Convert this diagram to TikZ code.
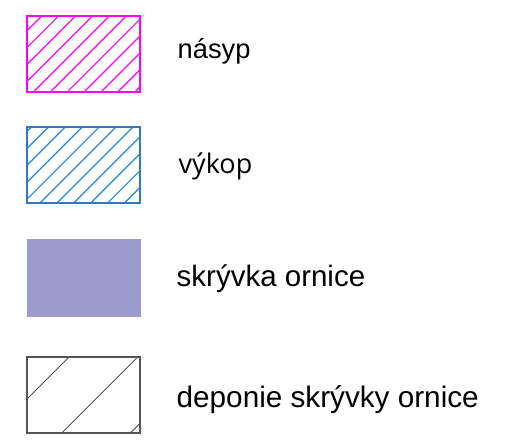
\documentclass[tikz,border=0pt]{standalone}
\usepackage{fontspec}
\setmainfont{Liberation Sans}
\newfontfamily\humanist{Open Sans}
\definecolor{nasypcol}{RGB}{255,0,255}
\definecolor{vykopedge}{RGB}{48,120,200}
\definecolor{vykophatch}{RGB}{30,136,229}
\definecolor{ornicecol}{RGB}{155,155,206}
\definecolor{deponiecol}{RGB}{85,85,85}
\tikzset{
  legendtext/.style={anchor=base west, inner sep=0pt, text=black},
}
\begin{document}
\begin{tikzpicture}[x=1pt,y=-1pt]
  \useasboundingbox (0,0) rectangle (509,440);
  % násyp: magenta hatching
  \begin{scope}
    \clip (27,16) rectangle (140,92);
    \foreach \c in {23.9,40.8,...,260} \draw[nasypcol, line width=1.2pt] (\c-100,100) -- (\c,0);
  \end{scope}
  \draw[nasypcol, line width=1.6pt] (27,16) rectangle (140,92);
  % výkop: blue hatching
  \begin{scope}
    \clip (27,127) rectangle (140,203);
    \foreach \c in {141.6,158.5,...,380} \draw[vykophatch, line width=1.2pt] (\c-210,210) -- (\c-120,120);
  \end{scope}
  \draw[vykopedge, line width=1.3pt] (27,127) rectangle (140,203);
  % skrývka ornice: solid fill
  \fill[ornicecol] (27,239) rectangle (141,317);
  % deponie: sparse grey hatching
  \begin{scope}
    \clip (27,357) rectangle (140,433);
    \foreach \c in {357.3,426,...,640} \draw[deponiecol, line width=1pt] (\c-440,440) -- (\c-350,350);
  \end{scope}
  \draw[deponiecol, line width=1.2pt] (27,357) rectangle (140,433);
  % labels
  \node[legendtext, font=\fontsize{27.3}{32}\selectfont] (t1) at (177.5,58.3) {násyp};
  \node[legendtext, font=\humanist\fontsize{27}{32}\selectfont] (t2) at (178.5,173) {výkop};
  \node[legendtext, font=\fontsize{29.5}{35}\selectfont] (t3) at (176.5,286) {skrývka ornice};
  \node[legendtext, font=\fontsize{29.7}{35}\selectfont] (t4) at (176.5,407) {deponie skrývky ornice};
\end{tikzpicture}
\end{document}
